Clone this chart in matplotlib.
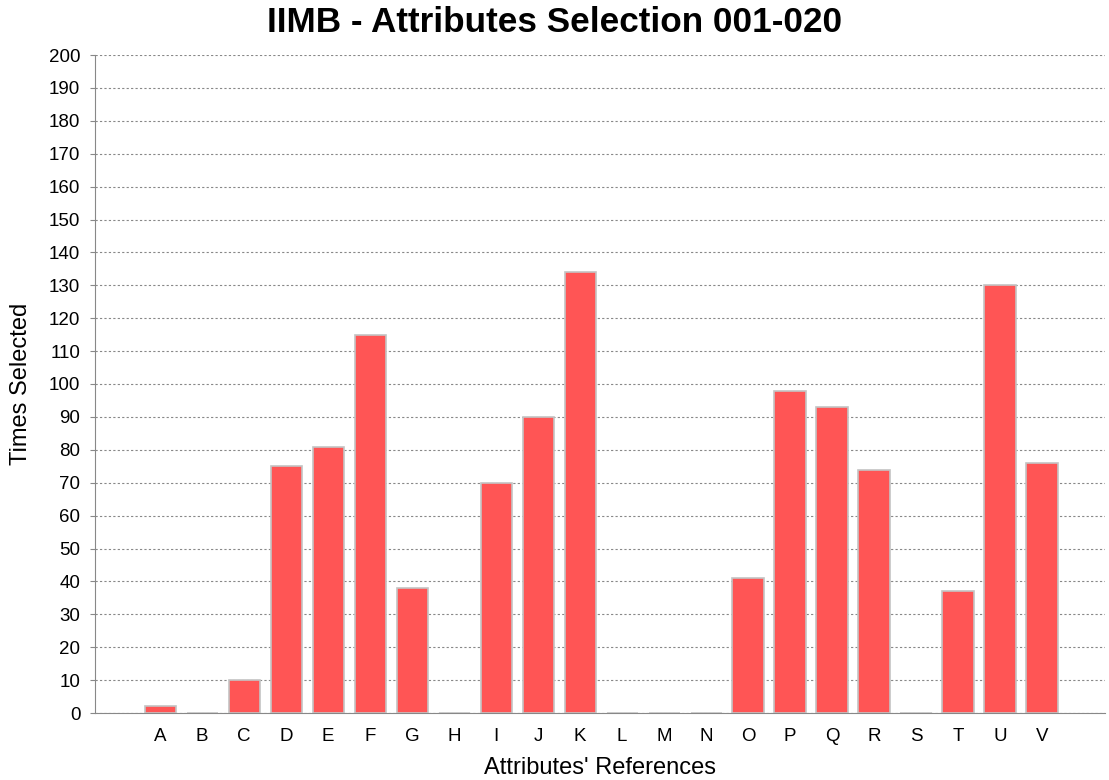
import matplotlib
matplotlib.use("Agg")
import matplotlib.pyplot as plt
import numpy as np

categorias = ['A', 'B', 'C', 'D', 'E', 'F', 'G', 'H', 'I', 'J', 'K',
              'L', 'M', 'N', 'O', 'P', 'Q', 'R', 'S', 'T', 'U', 'V']
vezes = [2, 0, 10, 75, 81, 115, 38, 0, 70, 90, 134,
         0, 0, 0, 41, 98, 93, 74, 0, 37, 130, 76]
yticks = list(range(0, 201, 10))

plt.rcParams['font.family'] = ['Liberation Sans', 'DejaVu Sans']

fig = plt.figure(figsize=(11.09, 7.80), dpi=100)
ax = fig.add_axes([95 / 1109, 1 - 713 / 780, (1105 - 95) / 1109, (713 - 55) / 780])

x = np.arange(len(categorias))
ax.bar(x, vezes, width=0.74, color='#FF5555', edgecolor='#C4C4C4', linewidth=1.2, zorder=3)

# margens como no grafico original
ax.set_xlim(-1.55, len(categorias) + 0.5)
ax.set_ylim(0, 200)
ax.set_yticks(yticks)
ax.set_xticks(x)
ax.set_xticklabels(categorias)

ax.grid(axis='y', color='#888888', linestyle=(0, (2, 2)), linewidth=0.8, zorder=0)
ax.grid(axis='x', visible=False)

for s in ['top', 'right']:
    ax.spines[s].set_visible(False)
ax.spines['left'].set_color('#888888')
ax.spines['bottom'].set_color('#888888')

ax.tick_params(axis='y', length=3.6, color='#888888', labelsize=13.5, pad=7)
ax.tick_params(axis='x', length=0, labelsize=13.5, pad=11)

ax.set_ylabel('Times Selected', fontsize=17)
ax.set_xlabel("Attributes' References", fontsize=17)
ax.yaxis.set_label_coords((32 - 95) / 1010, 0.5)
ax.xaxis.set_label_coords(0.5, (713 - 757) / 658)

fig.text(0.5, 1 - 23 / 780, 'IIMB - Attributes Selection 001-020',
         ha='center', va='center', fontsize=25.3, fontweight='bold')

fig.savefig('out.png', dpi=100)
